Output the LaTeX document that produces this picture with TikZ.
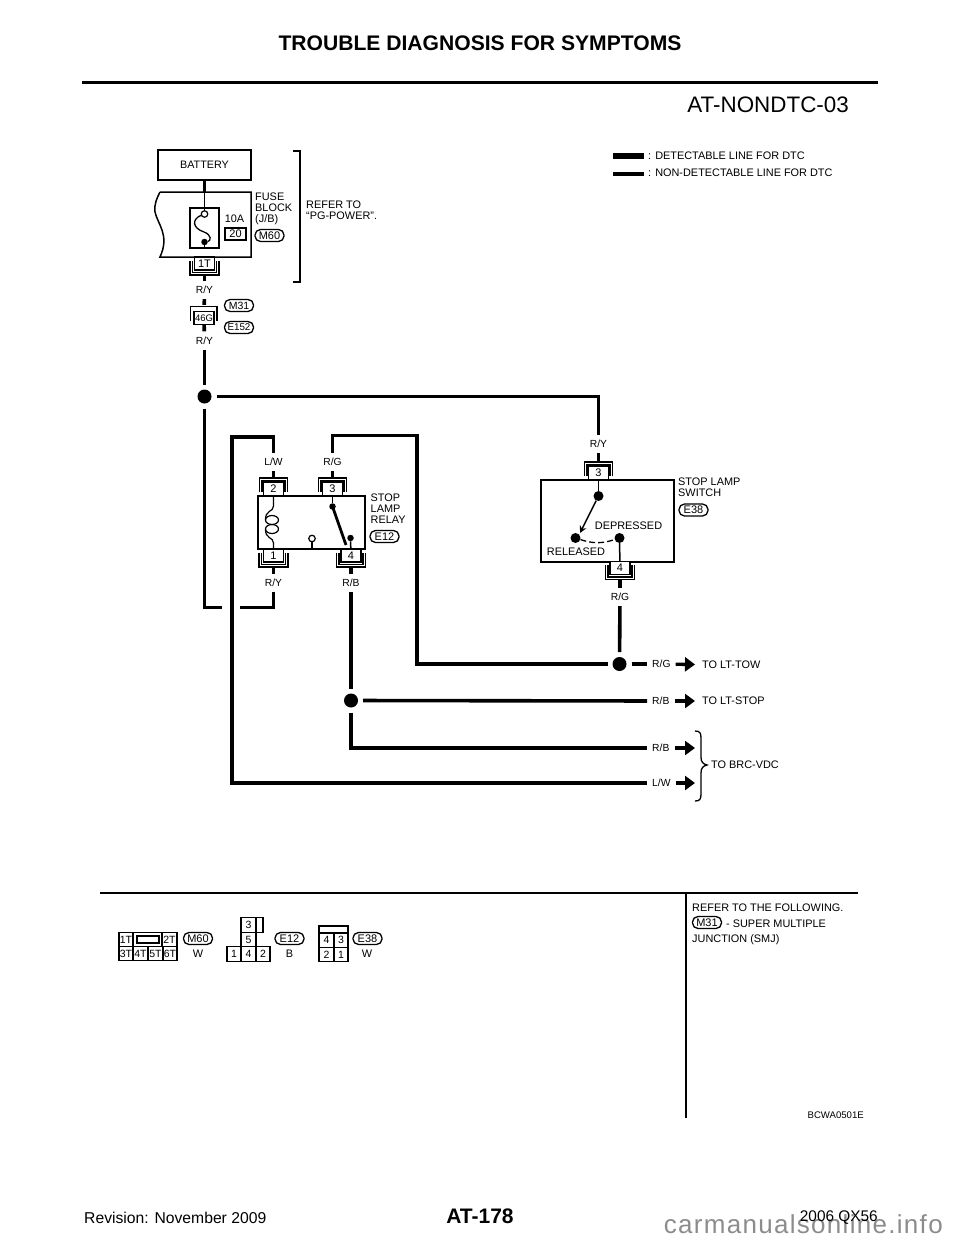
\documentclass[tikz,border=0pt]{standalone}
\usepackage{fontspec}
\setmainfont{Liberation Sans}
\usetikzlibrary{arrows.meta}

\tikzset{
    txt/.style={inner sep=0pt, font=\fontsize{10.9}{11}\selectfont, align=left},
    wlab/.style={inner sep=0pt, inner xsep=5pt, minimum height=18pt, font=\fontsize{10.3}{12}\selectfont},
    wire/.style={line width=3.6pt},
    wirepin/.style={wire, shorten >=5pt},
    pinwire/.style={wire, shorten <=5pt},
    thinwire/.style={line width=1.5pt},
    pill/.style={draw, line width=1.3pt, rounded corners=5.5pt, inner sep=0pt, minimum width=29pt, minimum height=12pt, font=\fontsize{11}{12}\selectfont},
    pin/.style={draw, fill=white, line width=1.2pt, inner sep=0pt, minimum width=20pt, minimum height=13pt, font=\fontsize{11}{12}\selectfont},
    cell/.style={draw, line width=1.2pt, inner sep=0pt, minimum height=14.5pt, font=\fontsize{10.5}{12}\selectfont},
    box/.style={draw, line width=1.5pt, inner sep=0pt},
    junction/.style={circle, fill=black, inner sep=0pt, minimum size=14pt, outer sep=5pt},
    blob/.style={circle, fill=black, inner sep=0pt, minimum size=10pt},
    smallblob/.style={circle, fill=black, inner sep=0pt, minimum size=6.5pt},
    opendot/.style={circle, draw, fill=white, line width=1.2pt, inner sep=0pt, minimum size=6.5pt},
    toarrow/.style={line width=3.4pt, -{Triangle[length=10pt, width=14pt]}}
}

\begin{document}
\begin{tikzpicture}[x=1pt, y=-1pt]
    \useasboundingbox (0,0) rectangle (960,1242);

    % page furniture
    \node[inner sep=0pt, font=\fontsize{21.1}{24}\bfseries] (title) at (480,43) {TROUBLE DIAGNOSIS FOR SYMPTOMS};
    \draw[line width=3pt] (82,82) -- (878,82);
    \node[inner sep=0pt, anchor=east, font=\fontsize{22.4}{24}\selectfont] (code) at (849,105) {AT-NONDTC-03};
    \node[inner sep=0pt, anchor=west, font=\fontsize{15.7}{18}\selectfont] (rev) at (84,1218) {Revision: November 2009};
    \node[inner sep=0pt, font=\fontsize{21}{24}\bfseries] (page) at (480,1216) {AT-178};
    \node[inner sep=0pt, anchor=base east, text=black!45, font=\fontsize{26}{30}\selectfont\addfontfeature{LetterSpace=5}] (mark) at (943,1233) {carmanualsonline.info};
    \node[inner sep=0pt, anchor=east, font=\fontsize{15.4}{18}\selectfont] (year) at (878,1218) {2006 QX56};

    % legend
    \fill (613,153) rectangle (644,159);
    \fill (613,172) rectangle (644,175.5);
    \node[txt, anchor=west] (legA) at (648,156) {: DETECTABLE LINE FOR DTC};
    \node[txt, anchor=west] (legB) at (648,173) {: NON-DETECTABLE LINE FOR DTC};

    % battery and fuse block
    \node[box, minimum width=93pt, minimum height=30pt] (battery) at (204.5,165) {\fontsize{10.8}{12}\selectfont BATTERY};
    \coordinate (fbtop) at (204.5,192);
    \draw[line width=1.5pt] (160,192) -- (251,192) -- (251,257) -- (160,257)
        .. controls (170,235) and (158,225) .. (155,212) .. controls (154,204) and (157,198) .. (160,192);
    \draw[wire] (battery) -- (fbtop);
    \node[box, minimum width=29pt, minimum height=40pt] (fuse) at (204.5,228) {};
    \node[opendot] (fusetop) at (204.5,214) {};
    \node[smallblob] (fusebot) at (204.5,242) {};
    \draw[thinwire] (fbtop) -- (fusetop);
    \draw[thinwire] (fusebot) -- (fuse.south);
    \draw[line width=1.3pt] (fusetop) .. controls (192,219) and (192,228) .. (204,232) .. controls (212,235) and (211,241) .. (fusebot);
    \node[txt] (amp) at (234.5,219) {10A};
    \node[draw, line width=1.2pt, inner sep=0pt, minimum width=21pt, minimum height=12pt, font=\fontsize{11}{12}\selectfont] (fnum) at (235.5,234) {20};
    \node[txt, anchor=north west] (fblabel) at (255,192.5) {FUSE\\BLOCK\\(J/B)};
    \node[pill] (mA) at (269.5,235.5) {M60};
    \draw[line width=1.5pt] (293,151) -- (300,151) -- (300,282) -- (293,282);
    \node[txt, anchor=north west] (refer) at (306,200.5) {REFER TO\\“PG-POWER”.};

    % relay and switch boxes
    \node[box, minimum width=107pt, minimum height=53pt] (relay) at (311.5,522.5) {};
    \node[box, minimum width=133pt, minimum height=82pt] (switch) at (607.5,521) {};

    % connector pins, top ones then bottom ones
    \foreach \pinname/\x/\y/\n in {pinb/273.5/489/2, pinc/332.5/489/3, pins/598.5/473/3}{
        \draw[line width=1.2pt] (\x-14,\y+3) -- (\x-14,\y-11) -- (\x+14,\y-11) -- (\x+14,\y+3);
        \draw[line width=1.2pt] (\x-11.5,\y+3) -- (\x-11.5,\y-8) -- (\x+11.5,\y-8) -- (\x+11.5,\y+3);
        \node[pin] (\pinname) at (\x,\y) {\n};
    }
    \foreach \pinname/\x/\y/\n in {pint/204.5/263.5/1T, pina/273.5/555.5/1, pind/351/555.5/4, pine/620/568/4}{
        \draw[line width=1.2pt] (\x-14.5,\y-3) -- (\x-14.5,\y+11.5) -- (\x+14.5,\y+11.5) -- (\x+14.5,\y-3);
        \draw[line width=1.2pt] (\x-12,\y-3) -- (\x-12,\y+9) -- (\x+12,\y+9) -- (\x+12,\y-3);
        \node[pin] (\pinname) at (\x,\y) {\n};
    }
    \draw[line width=1.8pt] (190.5,321) -- (190.5,306.5) -- (217,306.5) -- (217,321);
    \node[pin, font=\fontsize{9.5}{12}\selectfont] (ping) at (204,318) {46G};
    \node[pill, font=\fontsize{10.5}{12}\selectfont] (mB) at (239,305.5) {M31};
    \node[pill, font=\fontsize{9.8}{12}\selectfont] (mC) at (239,327.5) {E152};

    % wire labels
    \foreach \lab/\x/\y/\n in {lryA/204.5/290/R\slash Y, lryB/204.5/340.5/R\slash Y, llw/273.5/462/L\slash W, lrg/332.5/462/R\slash G,
        lry/273.5/583/R\slash Y, lrb/351/583/R\slash B, lrs/598.5/444/R\slash Y, lrh/620/597/R\slash G}{
        \node[wlab] (\lab) at (\x,\y) {\n};
    }
    \foreach \lab/\y/\n in {ltow/664/R\slash G, lstop/701/R\slash B, lbrb/748/R\slash B, lbrw/783/L\slash W}{
        \node[wlab, anchor=west] (\lab) at (647,\y) {\n};
    }

    % junctions
    \node[junction] (jbat) at (204.5,396.5) {};
    \node[junction] (jtow) at (619.5,664) {};
    \node[junction] (jstop) at (351,700.5) {};

    % harness
    \draw[pinwire] (pint) -- (lryA);
    \draw[wirepin, shorten >=6pt] (lryA) -- (ping);
    \draw[wire] (ping) -- (lryB);
    \draw[wire] (lryB) -- (jbat);
    \draw[wire] (jbat) -| (lrs);
    \draw[wirepin] (lrs) -- (pins);
    \draw[wire] (jbat) |- (222,607.5);
    \draw[wire] (240,607.5) -| (lry);
    \draw[pinwire] (pina) -- (lry);
    \draw[wirepin] (llw) -- (pinb);
    \draw[wirepin] (lrg) -- (pinc);
    \draw[wire] (lrg) |- (417,435.5) |- (jtow);
    \draw[wire] (jtow) -- (ltow);
    \draw[wire] (llw) |- (232,437) |- (lbrw);
    \draw[pinwire] (pind) -- (lrb);
    \draw[wire] (lrb) -- (jstop);
    \draw[wire] (jstop) -- (lstop);
    \draw[wire] (jstop) |- (lbrb);
    \draw[pinwire] (pine) -- (lrh);
    \draw[wire] (lrh) -- (jtow);

    % stop lamp relay
    \node[txt, anchor=north west] (relaylab) at (370.5,494) {STOP\\LAMP\\RELAY};
    \node[pill] (mD) at (384.5,536.5) {E12};
    \coordinate (coilA) at (273.5,506);
    \coordinate (coilB) at (273.5,543);
    \draw[line width=1.2pt] (pinb) -- (coilA) .. controls (273.5,512) and (265,510) .. (265.5,520);
    \draw[line width=1.2pt] (272,520) ellipse (6.5pt and 4.5pt);
    \draw[line width=1.2pt] (272,529) ellipse (6.5pt and 4.5pt);
    \draw[line width=1.2pt] (265.5,529) .. controls (265,539) and (273.5,537) .. (coilB) -- (pina);
    \node[smallblob] (contA) at (332.5,506.5) {};
    \node[smallblob] (contB) at (350.5,538) {};
    \node[opendot] (contC) at (312,538.5) {};
    \draw[thinwire] (pinc) -- (contA);
    \draw[line width=2.8pt] (contA.center) -- (346,545);
    \draw[thinwire] (contB) -- (pind);
    \draw[line width=1.2pt] (contC) -- (312,549);

    % stop lamp switch
    \node[txt, anchor=north west] (switchlab) at (678,478) {STOP LAMP\\SWITCH};
    \node[pill] (mE) at (693.5,510) {E38};
    \node[blob] (swtop) at (598.5,496) {};
    \node[blob] (swrel) at (575.5,538) {};
    \node[blob] (swdep) at (619.5,538) {};
    \draw[thinwire] (pins) -- (swtop);
    \draw[thinwire] (swdep) -- (pine);
    \draw[line width=1.5pt, -{Stealth[length=7pt, width=7pt]}] (swtop) -- (580,533);
    \draw[line width=1.3pt, dash pattern=on 6pt off 3pt] (swrel) to[bend right=18] (swdep);
    \node[txt] (deplab) at (628.5,525.5) {DEPRESSED};
    \node[txt] (rellab) at (576,552) {RELEASED};

    % outgoing arrows
    \node[txt, anchor=west, inner xsep=7pt] (totow) at (695,665) {TO LT-TOW};
    \node[txt, anchor=west, inner xsep=7pt] (tostop) at (695,701) {TO LT-STOP};
    \coordinate (brA) at (695,748);
    \coordinate (brB) at (695,783);
    \draw[toarrow] (ltow) -- (totow);
    \draw[toarrow] (lstop) -- (tostop);
    \draw[toarrow] (lbrb) -- (brA);
    \draw[toarrow] (lbrw) -- (brB);
    \draw[line width=1.3pt] (695,731) .. controls (700,731) and (701,733) .. (701,738) -- (701,757)
        .. controls (701,762) and (703,764) .. (707,765) .. controls (703,766) and (701,768) .. (701,773)
        -- (701,794) .. controls (701,799) and (700,801) .. (695,801);
    \node[txt, anchor=west] (tobrc) at (711,765) {TO BRC-VDC};

    % lower part of page
    \draw[line width=2pt] (100,892.5) -- (858,892.5);
    \draw[line width=2pt] (685.5,892.5) -- (685.5,1118);
    \node[txt, anchor=west] (foll) at (692,907.5) {REFER TO THE FOLLOWING.};
    \node[pill] (mF) at (707,922.5) {M31};
    \node[txt, anchor=west] (smj) at (726,923.5) {- SUPER MULTIPLE};
    \node[txt, anchor=west] (smjb) at (692,939.5) {JUNCTION (SMJ)};
    \node[inner sep=0pt, anchor=east, font=\fontsize{9.6}{10}\selectfont] (ref) at (864,1115) {BCWA0501E};

    % connector faces
    \node[draw, line width=1.2pt, minimum width=29pt, minimum height=14.5pt, inner sep=0pt] (mframe) at (147.5,939.5) {};
    \node[draw, line width=1.2pt, minimum width=22pt, minimum height=7pt, inner sep=0pt] (mslot) at (148,939.5) {};
    \foreach \cname/\x/\y/\w/\n in {ca/126/939.5/14/1T, cb/169.5/939.5/15/2T, cc/126/953.5/14/3T, cd/140.5/953.5/15/4T, ce/155.5/953.5/15/5T, cf/170/953.5/14/6T,
        cg/248.5/925/15/3, ch/248.5/939.5/15/5, ci/234/954/14/1, cj/248.5/954/15/4, ck/263/954/14/2,
        cl/326.5/940/15/4, cm/341/940/14/3, cn/326.5/954.5/15/2, co/341/954.5/14/1}{
        \node[cell, minimum width=\w pt] (\cname) at (\x,\y) {\n};
    }
    \node[cell, minimum width=7pt] (cp) at (259.5,925) {};
    \node[cell, minimum width=29pt, minimum height=7pt] (cq) at (333.5,929.5) {};
    \node[pill] (mG) at (198,938.5) {M60};
    \node[pill] (mH) at (289.5,938.5) {E12};
    \node[pill] (mI) at (367.5,938.5) {E38};
    \foreach \cname/\x/\n in {wa/198/W, wb/289.5/B, wc/367/W}{
        \node[txt] (\cname) at (\x,954) {\n};
    }
\end{tikzpicture}
\end{document}
